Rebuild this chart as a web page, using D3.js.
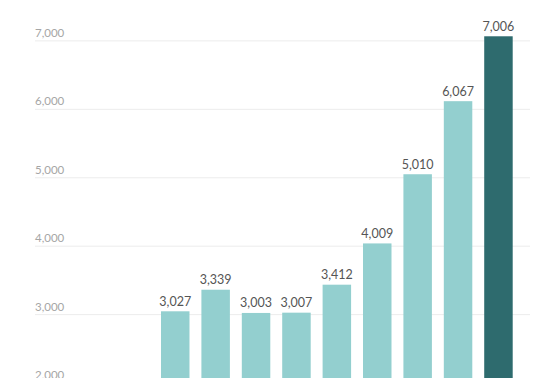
<!DOCTYPE html>
<html>
<head>
<meta charset="utf-8">
<script src="https://cdn.jsdelivr.net/npm/d3@7"></script>
<style>
  html, body { margin: 0; padding: 0; background: #fff; overflow: hidden; }
  svg { display: block; }
</style>
</head>
<body>
<svg id="chart" width="550" height="378"></svg>
<script>
const categories = ["1", "2", "3", "4", "5", "6", "7", "8", "9"];
const values = [3027, 3339, 3003, 3007, 3412, 4009, 5010, 6067, 7006];
const highlight = ["9"];
const tickValues = [2000, 3000, 4000, 5000, 6000, 7000];

const svg = d3.select("#chart");

// bar scale and grid scale (grid sits marginally lower in the reference)
const y = d3.scaleLinear().domain([0, 7000]).range([520.5, 36.7]);
const yGrid = d3.scaleLinear().domain([0, 7000]).range([519.4, 40.4]);
const x = d3.scaleBand().domain(categories).range([161, 512.7]).paddingInner(0.295).paddingOuter(0);

const fmt = d3.format(",");

const yAxis = d3.axisLeft(yGrid).tickValues(tickValues).tickSize(0).tickFormat(fmt);
const gAxis = svg.append("g").attr("class", "y-axis").call(yAxis);
gAxis.select(".domain").remove();
gAxis.selectAll(".tick line")
  .attr("x1", 35).attr("x2", 530)
  .attr("stroke", "#ececec").attr("stroke-width", 1);
gAxis.selectAll(".tick text")
  .attr("x", 35).attr("dy", -4)
  .attr("text-anchor", "start")
  .attr("font-family", "Lato, 'Open Sans', sans-serif")
  .attr("font-size", 11.5)
  .attr("fill", "#a6a6a6");

const data = categories.map((c, i) => ({ c, v: values[i] }));

svg.append("g").selectAll("rect").data(data).join("rect")
  .attr("x", d => x(d.c))
  .attr("width", x.bandwidth())
  .attr("y", d => y(d.v))
  .attr("height", d => y(0) - y(d.v))
  .attr("fill", d => highlight.includes(d.c) ? "#2e6b6e" : "#93cfcf");

svg.append("g").selectAll("text").data(data).join("text")
  .attr("x", d => x(d.c) + x.bandwidth() / 2)
  .attr("y", d => y(d.v) - 5.5)
  .attr("text-anchor", "middle")
  .attr("font-family", "Lato, 'Open Sans', sans-serif")
  .attr("font-size", 12.5)
  .attr("fill", "#555")
  .text(d => fmt(d.v));
</script>
</body>
</html>
